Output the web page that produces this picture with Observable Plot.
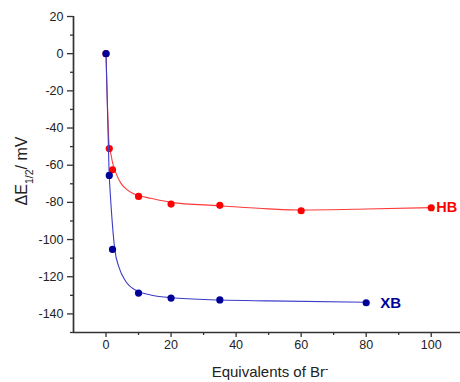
<!DOCTYPE html>
<html><head><meta charset="utf-8">
<script src="https://cdn.jsdelivr.net/npm/d3@7"></script>
<script src="https://cdn.jsdelivr.net/npm/@observablehq/plot@0.6"></script>
<style>
body{margin:0;background:#fff;overflow:hidden;}
svg{font-family:"Liberation Sans",Arial,sans-serif;}
</style>
</head><body><div id="chart"></div>
<script>
// Measured data points
const hbX = [0, 1, 2, 10, 20, 35, 60, 100];
const hbY = [0, -51, -62.5, -76.8, -80.9, -81.6, -84.5, -82.9];
const xbX = [0, 1, 2, 10, 20, 35, 80];
const xbY = [0, -65.5, -105.3, -128.8, -131.5, -132.5, -134];
// Fit curves
const hbFitX = [0, 1, 1.5, 2, 3, 4.5, 6, 8.6, 10, 13.7, 20, 35, 50, 60, 80, 100];
const hbFitY = [0, -50, -54, -58.5, -64, -69.5, -72.5, -75.5, -76.3, -77.8, -80, -81.8, -83.5, -84.1, -83.6, -82.8];
const xbFitX = [0, 0.93, 1.44, 1.96, 2.67, 4, 6, 9.6, 13.7, 20, 35, 50, 80];
const xbFitY = [0, -63, -79, -91.7, -105, -115, -122.3, -127.7, -129.8, -131.3, -132.5, -133, -133.7];
// Ticks
const xTicks = [0, 20, 40, 60, 80, 100];
const xMinor = [10, 30, 50, 70, 90];
const yTicks = [20, 0, -20, -40, -60, -80, -100, -120, -140];
const yMinor = [10, -10, -30, -50, -70, -90, -110, -130, -150];
const seriesNames = ["HB", "XB"];

const hb = hbX.map((x, i) => ({x, y: hbY[i]}));
const xb = xbX.map((x, i) => ({x, y: xbY[i]}));
const hbFit = hbFitX.map((x, i) => ({x, y: hbFitY[i]}));
const xbFit = xbFitX.map((x, i) => ({x, y: xbFitY[i]}));

const RED = "#ff0000", RED_LINE = "#ff3a3a", NAVY = "#000099", BLUE_LINE = "#3c3cc8";

const chart = Plot.plot({
  width: 460, height: 382,
  marginLeft: 73, marginRight: 0, marginTop: 16, marginBottom: 50,
  style: {fontFamily: '"Liberation Sans",Arial,sans-serif', fontSize: "12.5px", color: "#222", background: "#fff", overflow: "visible"},
  x: {domain: [-10, 109]},
  y: {domain: [-150, 20]},
  marks: [
    Plot.axisX(xTicks, {tickSize: 5, tickPadding: 3, label: null, stroke: "#333", strokeWidth: 1.3}),
    Plot.axisX(xMinor, {tickSize: 3, tickFormat: () => "", label: null, stroke: "#333", strokeWidth: 1.3}),
    Plot.axisY(yTicks, {tickSize: 6, tickPadding: 4, label: null, stroke: "#333", strokeWidth: 1.3, tickFormat: d => d < 0 ? "-" + Math.abs(d) : String(d)}),
    Plot.axisY(yMinor, {tickSize: 3, tickFormat: () => "", label: null, stroke: "#333", strokeWidth: 1.3}),
    Plot.ruleX([-10], {stroke: "#333", strokeWidth: 1.7}),
    Plot.ruleY([-150], {stroke: "#333", strokeWidth: 1.7}),
    Plot.line(hbFit, {x: "x", y: "y", stroke: RED_LINE, strokeWidth: 1.1, curve: "monotone-x"}),
    Plot.dot(hb, {x: "x", y: "y", r: 3.6, fill: RED}),
    Plot.line(xbFit, {x: "x", y: "y", stroke: BLUE_LINE, strokeWidth: 1.1, curve: "monotone-x"}),
    Plot.dot(xb, {x: "x", y: "y", r: 3.6, fill: NAVY}),
    Plot.text([hb[hb.length - 1]], {x: "x", y: "y", text: () => seriesNames[0], textAnchor: "start", dx: 5, fill: RED, fontWeight: "bold", fontSize: 14.5}),
    Plot.text([xb[xb.length - 1]], {x: "x", y: "y", text: () => seriesNames[1], textAnchor: "start", dx: 14, fill: NAVY, fontWeight: "bold", fontSize: 15})
  ]
});

const svg = d3.select(chart);
// x label
const xl = svg.append("text").attr("x", 270).attr("y", 377).attr("text-anchor", "middle")
  .attr("font-size", 15).attr("fill", "#222");
xl.append("tspan").text("Equivalents of Br");
xl.append("tspan").attr("font-size", 10).attr("baseline-shift", "super").text("-");
// y label
const yl = svg.append("text").attr("transform", "translate(27,171) rotate(-90)").attr("text-anchor", "middle")
  .attr("font-size", 16).attr("fill", "#222");
yl.append("tspan").text("ΔE");
yl.append("tspan").attr("font-size", 10.5).attr("baseline-shift", "sub").text("1/2");
yl.append("tspan").text("/ mV");

document.getElementById("chart").appendChild(chart);
</script>
</body></html>
